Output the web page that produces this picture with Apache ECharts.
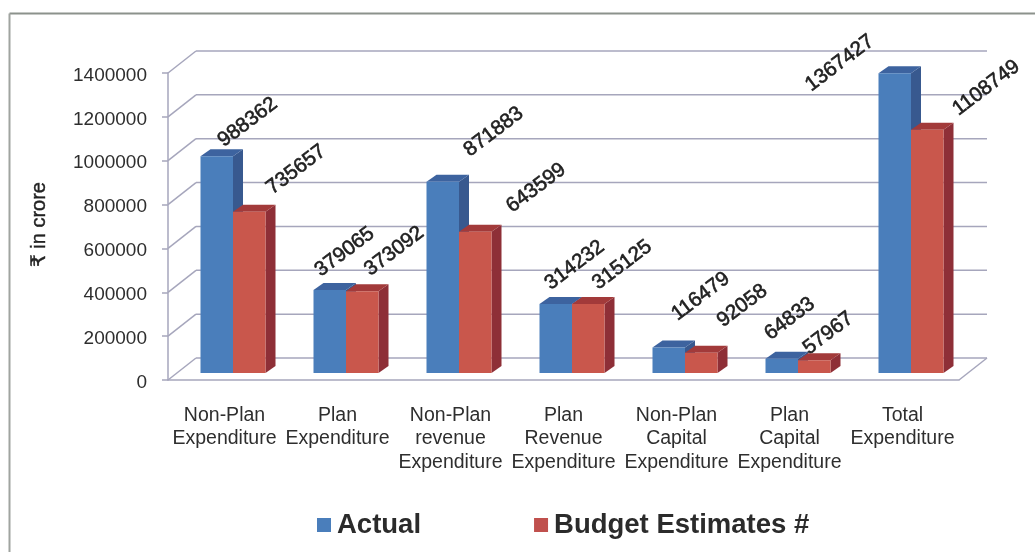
<!DOCTYPE html>
<html><head><meta charset="utf-8">
<style>html,body{margin:0;padding:0;background:#fff}#c{width:1035px;height:552px}</style>
<script src="https://cdn.jsdelivr.net/npm/echarts@6/dist/echarts.min.js"></script>
</head><body><div id="c"></div>
<script>
const categories = ['Non-Plan\nExpenditure','Plan\nExpenditure','Non-Plan\nrevenue\nExpenditure','Plan\nRevenue\nExpenditure','Non-Plan\nCapital\nExpenditure','Plan\nCapital\nExpenditure','Total\nExpenditure'];
const actual = [988362,379065,871883,314232,116479,64833,1367427];
const budget = [735657,373092,643599,315125,92058,57967,1108749];
const yTicks = [0,200000,400000,600000,800000,1000000,1200000,1400000];
// hand-placed data label offsets from the bar's top centre, as in the reference
const actualLabelShift = [[31,-34],[15,-38],[51,-50],[19,-39],[32,-51],[8,-40],[-55,-10]];
const budgetLabelShift = [[47,-42],[32,-40],[61,-44],[34,-39],[41,-47],[14,-27],[59,-42]];

const wallX = 28, wallY = -22;      // floor depth of the plot box
const barDX = 8.5, barDY = -7;      // bars stand inside the floor
const sideX = 10, sideY = -7;       // depth of each bar
const barW = 32.5;
const lineColor = '#a6a6bc';
const fontName = '"Liberation Sans", Arial, sans-serif';

function barItem(offsetSign, front, side, top){
  return function(params, api){
    const i = api.value(0), v = api.value(1);
    const base = api.coord([i, 0]), head = api.coord([i, v]);
    const xl = base[0] + barDX + (offsetSign < 0 ? -barW : 0);
    const xr = xl + barW, yb = base[1] + barDY, yt = head[1] + barDY;
    return {type:'group', children:[
      {type:'polygon', shape:{points:[[xr,yb],[xr+sideX,yb+sideY],[xr+sideX,yt+sideY],[xr,yt]]}, style:{fill:side}},
      {type:'polygon', shape:{points:[[xl,yt],[xl+sideX,yt+sideY],[xr+sideX,yt+sideY],[xr,yt]]}, style:{fill:top}},
      {type:'rect', shape:{x:xl,y:yt,width:barW,height:yb-yt}, style:{fill:front}}
    ]};
  };
}
function labelItem(shifts, offsetSign){
  return function(params, api){
    const i = api.value(0), v = api.value(1);
    const base = api.coord([i, 0]), head = api.coord([i, v]);
    const cx = base[0] + barDX + offsetSign * barW / 2 + shifts[i][0];
    const cy = head[1] + barDY + shifts[i][1];
    return {type:'text', x:cx, y:cy, rotation:37*Math.PI/180, style:{
      text:String(v), x:0, y:0, align:'center', verticalAlign:'middle',
      font:'20.5px ' + fontName, fill:'#1f1f1f', stroke:'#1f1f1f', lineWidth:0.6
    }};
  };
}
function wallItem(params, api){
  const v = api.value(0);
  const p = api.coord([0, v]);
  const x0 = params.coordSys.x, x1 = x0 + params.coordSys.width;
  const y = p[1];
  const kids = [
    {type:'line', shape:{x1:x0,y1:y,x2:x0+wallX,y2:y+wallY}, style:{stroke:lineColor,lineWidth:1.5}},
    {type:'line', shape:{x1:x0+wallX,y1:y+wallY,x2:x1+wallX,y2:y+wallY}, style:{stroke:lineColor,lineWidth:1.5}}
  ];
  if (v === 0) kids.push({type:'line', shape:{x1:x1,y1:y,x2:x1+wallX,y2:y+wallY}, style:{stroke:lineColor,lineWidth:1.5}});
  return {type:'group', children:kids};
}
const chart = echarts.init(document.getElementById('c'), null, {renderer:'canvas'});
chart.setOption({
  animation:false,
  backgroundColor:'#ffffff',
  grid:{left:168, top:73, width:791, height:307, containLabel:false},
  graphic:[
    {type:'line', silent:true, shape:{x1:9.5,y1:13.5,x2:1035,y2:13.5}, style:{stroke:'#8c928c',lineWidth:2}},
    {type:'line', silent:true, shape:{x1:9.5,y1:13.5,x2:9.5,y2:552}, style:{stroke:'#a0a4a0',lineWidth:2}}
  ],
  legend:{
    left:312, top:506, itemWidth:14, itemHeight:14, itemGap:113, icon:'rect',
    data:[{name:'Actual'},{name:'Budget Estimates #'}],
    textStyle:{fontFamily:fontName, fontSize:27.5, fontWeight:'bold', color:'#2b2b2b', padding:[0,0,0,1]}
  },
  xAxis:{
    type:'category', data:categories, boundaryGap:true,
    axisLine:{lineStyle:{color:lineColor,width:1.5}},
    axisTick:{alignWithLabel:false,length:6,lineStyle:{color:lineColor,width:1.5}},
    axisLabel:{interval:0, margin:24, fontFamily:fontName, fontSize:19.5, lineHeight:23.3, color:'#2e2e2e'}
  },
  yAxis:{
    type:'value', min:0, max:1400000, interval:200000,
    name:'₹ in crore', nameLocation:'middle', nameGap:119, nameRotate:90,
    nameTextStyle:{fontFamily:'"Liberation Sans","DejaVu Sans", sans-serif', fontSize:20, color:'#222222', textBorderColor:'#222222', textBorderWidth:0.4, padding:[0,0,0,4]},
    axisLine:{show:true,lineStyle:{color:lineColor,width:1.5}},
    axisTick:{show:true,length:6,lineStyle:{color:lineColor,width:1.5}},
    splitLine:{show:false},
    axisLabel:{margin:21, formatter:v=>'{a|'+v+'}', rich:{a:{padding:[5,0,0,0], fontFamily:fontName, fontSize:19, color:'#2e2e2e'}}}
  },
  series:[
    {type:'custom', name:'wall', silent:true, z:1, renderItem:wallItem, data:yTicks.map(v=>[v]), encode:{y:0}, tooltip:{show:false}},
    {type:'custom', name:'Actual', z:3, color:'#4a7ebb', renderItem:barItem(-1,'#4a7ebb','#38598f','#3d639f'), data:actual.map((v,i)=>[i,v]), encode:{x:0,y:1}},
    {type:'custom', name:'Budget Estimates #', z:4, color:'#c0504d', renderItem:barItem(1,'#c9574c','#8e2f37','#a23a3a'), data:budget.map((v,i)=>[i,v]), encode:{x:0,y:1}},
    {type:'custom', name:'actualLabels', silent:true, z:5, renderItem:labelItem(actualLabelShift,-1), data:actual.map((v,i)=>[i,v]), encode:{x:0,y:1}},
    {type:'custom', name:'budgetLabels', silent:true, z:5, renderItem:labelItem(budgetLabelShift,1), data:budget.map((v,i)=>[i,v]), encode:{x:0,y:1}}
  ]
});
</script></body></html>
